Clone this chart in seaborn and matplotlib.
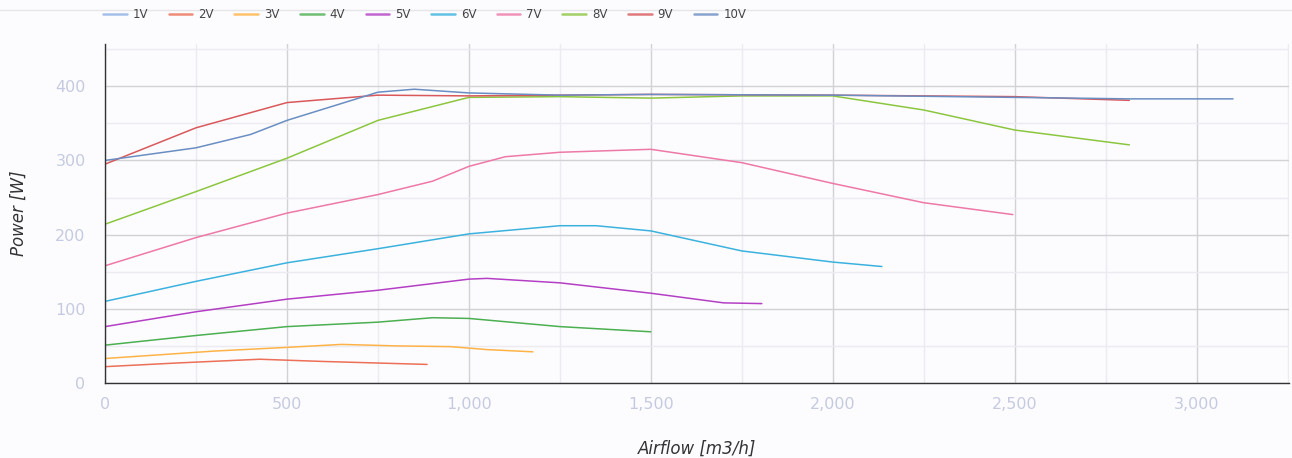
import numpy as np
import pandas as pd
import matplotlib
matplotlib.use("Agg")
import matplotlib.pyplot as plt
from matplotlib.ticker import MultipleLocator, FuncFormatter
from matplotlib.lines import Line2D
import seaborn as sns

# fan curves: airflow [m3/h] vs power [W]
flow_2v = [0, 200, 425, 600, 885]
power_2v = [22, 27, 32, 29, 25]
flow_3v = [0, 300, 500, 650, 800, 950, 1050, 1176]
power_3v = [33, 43, 48, 52, 50, 49, 45, 42]
flow_4v = [0, 250, 500, 750, 900, 1000, 1250, 1500]
power_4v = [51, 64, 76, 82, 88, 87, 76, 69]
flow_5v = [0, 250, 500, 750, 1000, 1050, 1250, 1500, 1700, 1805]
power_5v = [76, 96, 113, 125, 140, 141, 135, 121, 108, 107]
flow_6v = [0, 250, 500, 750, 1000, 1250, 1350, 1500, 1750, 2000, 2135]
power_6v = [110, 137, 162, 181, 201, 212, 212, 205, 178, 163, 157]
flow_7v = [0, 250, 500, 750, 900, 1000, 1100, 1250, 1500, 1750, 2000, 2250, 2495]
power_7v = [158, 196, 229, 254, 272, 292, 305, 311, 315, 297, 269, 243, 227]
flow_8v = [0, 250, 500, 750, 1000, 1250, 1500, 1750, 2000, 2250, 2500, 2815]
power_8v = [214, 258, 303, 354, 385, 386, 384, 387, 387, 368, 341, 321]
flow_9v = [0, 250, 500, 750, 1000, 1500, 2000, 2500, 2815]
power_9v = [295, 344, 378, 388, 387, 389, 388, 386, 381]
flow_10v = [0, 250, 400, 500, 750, 850, 1000, 1250, 1500, 2000, 2500, 2815, 3100]
power_10v = [300, 317, 335, 354, 392, 396, 391, 388, 389, 388, 385, 383, 383]

series = ["1V", "2V", "3V", "4V", "5V", "6V", "7V", "8V", "9V", "10V"]
colors = ["#8fb0e6", "#ec6f57", "#ffb347", "#4caf50", "#b43fc4",
          "#3bb2de", "#ee78a6", "#8cc63f", "#d9585a", "#6a8ec2"]

rows = []
for name, fx, py in [("2V", flow_2v, power_2v), ("3V", flow_3v, power_3v),
                     ("4V", flow_4v, power_4v), ("5V", flow_5v, power_5v),
                     ("6V", flow_6v, power_6v), ("7V", flow_7v, power_7v),
                     ("8V", flow_8v, power_8v), ("9V", flow_9v, power_9v),
                     ("10V", flow_10v, power_10v)]:
    for a, b in zip(fx, py):
        rows.append({"series": name, "flow": a, "power": b})
df = pd.DataFrame(rows)

sns.set_theme(style="white")
plt.rcParams["font.family"] = ["DejaVu Sans"]

fig = plt.figure(figsize=(12.92, 4.58), dpi=100, facecolor="#fcfcff")
ax = fig.add_axes([0.0813, 0.1638, 0.9167, 0.7402])
ax.set_facecolor("#fcfcff")

palette = dict(zip(series, colors))
sns.lineplot(data=df, x="flow", y="power", hue="series", palette=palette,
             hue_order=series[1:], sort=False, estimator=None, linewidth=1.1,
             legend=False, ax=ax)

ax.set_xlim(0, 3255)
ax.set_ylim(0, 457)
ax.xaxis.set_major_locator(MultipleLocator(500))
ax.xaxis.set_minor_locator(MultipleLocator(250))
ax.yaxis.set_major_locator(MultipleLocator(100))
ax.yaxis.set_minor_locator(MultipleLocator(50))
ax.xaxis.set_major_formatter(FuncFormatter(lambda v, p: f"{int(v):,}"))
ax.grid(which="major", color="#d2d2d6", linewidth=1.0)
ax.grid(which="minor", color="#ececf0", linewidth=1.0)
ax.set_axisbelow(True)

for s in ["top", "right"]:
    ax.spines[s].set_visible(False)
for s in ["left", "bottom"]:
    ax.spines[s].set_color("#333333")
    ax.spines[s].set_linewidth(1.0)

ax.tick_params(axis="both", which="both", length=0, labelsize=11.5,
               labelcolor="#c5cae0", pad=10)
ax.tick_params(axis="y", pad=14)

ax.set_xlabel("Airflow [m3/h]", fontsize=12, style="italic", color="#333333", labelpad=20)
ax.set_ylabel("Power [W]", fontsize=12, style="italic", color="#333333", labelpad=20)

# legend strip at the very top
fig.add_artist(Line2D([0, 1], [1 - 10 / 458, 1 - 10 / 458], color="#e6e6ea",
                      linewidth=1.0, transform=fig.transFigure))
handles = [Line2D([], [], color=c, linewidth=1.8, alpha=0.8) for c in colors]
leg = fig.legend(handles, series, loc="upper left",
                 bbox_to_anchor=(103 / 1292, 1 - 8 / 458),
                 ncol=10, frameon=False, fontsize=8.5, handlelength=2.0,
                 handletextpad=0.5, columnspacing=1.75, borderpad=0,
                 borderaxespad=0)
for t in leg.get_texts():
    t.set_color("#444444")

fig.savefig("out.png", dpi=100, facecolor=fig.get_facecolor())
